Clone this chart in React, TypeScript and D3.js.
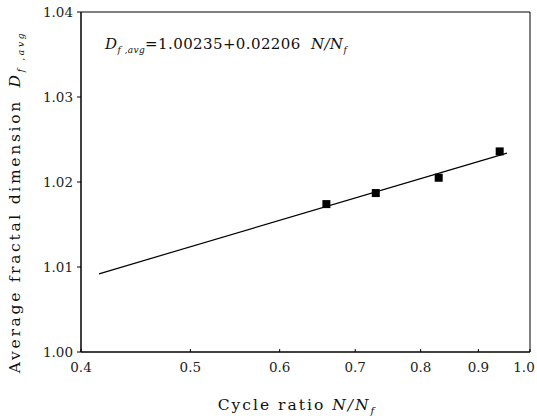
import React from 'react';
import * as d3 from 'd3';

// measured points (cycle ratio, average fractal dimension)
const cycleRatio = [0.66, 0.73, 0.83, 0.94];
const fractalDim = [1.0174, 1.0187, 1.0205, 1.0236];
// fitted line end points as drawn
const fitX = [0.415, 0.954];
const fitY = [1.0092, 1.0234];
const xTicks = [0.4, 0.5, 0.6, 0.7, 0.8, 0.9, 1.0];
const yTicks = [1.0, 1.01, 1.02, 1.03, 1.04];

const W = 537;
const H = 420;
const margin = { left: 81, right: 7, top: 12, bottom: 68 };
const font = "'DejaVu Serif', serif";

const App = () => {
  const x = d3.scaleLog().domain([0.4, 1.0]).range([margin.left, W - margin.right]);
  const y = d3.scaleLinear().domain([1.0, 1.04]).range([H - margin.bottom, margin.top]);

  const line = d3.line<number>()
    .x((d) => x(d))
    .y((_, i) => y(fitY[i]));

  const x0 = x(0.4), x1 = x(1.0), y0 = y(1.0), y1 = y(1.04);

  return (
    <svg width={W} height={H} style={{ position: 'absolute', left: 0, top: 0, background: '#fff', fontFamily: font }}>
      {/* frame */}
      <line x1={x0} x2={x1} y1={y0} y2={y0} stroke="#000" strokeWidth={1.5} />
      <line x1={x0} x2={x0} y1={y0} y2={y1} stroke="#000" strokeWidth={1.5} />
      <line x1={x0} x2={x1} y1={y1} y2={y1} stroke="#000" strokeWidth={1} />
      <line x1={x1} x2={x1} y1={y0} y2={y1} stroke="#000" strokeWidth={1} />

      {/* y ticks */}
      {yTicks.map((t) => (
        <g key={t}>
          <line x1={x0 - 4} x2={x0} y1={y(t)} y2={y(t)} stroke="#000" />
          <text x={x0 - 8} y={y(t)} dy="0.35em" textAnchor="end" fontSize={13.5}
            fill="#222">{d3.format('.2f')(t)}</text>
        </g>
      ))}

      {/* x ticks */}
      {xTicks.map((t, i) => (
        <g key={t}>
          <line x1={x(t)} x2={x(t)} y1={y0} y2={y0 - 3} stroke="#000" />
          <text x={i === xTicks.length - 1 ? x(t) - 6 : x(t)} y={y0 + 20} textAnchor="middle" fontSize={13.5}
            fill="#222">{d3.format('.1f')(t)}</text>
        </g>
      ))}

      {/* fitted line */}
      <path d={line(fitX) || ''} fill="none" stroke="#000" strokeWidth={1.2} />

      {/* points */}
      {cycleRatio.map((c, i) => (
        <rect key={c} x={x(c) - 4} y={y(fractalDim[i]) - 4} width={8} height={8} fill="#000" />
      ))}

      {/* equation */}
      <text x={105} y={49} fontSize={15} letterSpacing={0.4} fill="#111">
        <tspan fontStyle="italic">D</tspan>
        <tspan fontStyle="italic" fontSize={9} dy={4}>f ,avg</tspan>
        <tspan dy={-4}>=1.00235+0.02206 </tspan>
        <tspan fontStyle="italic" dx={5}>N/N</tspan>
        <tspan fontStyle="italic" fontSize={9} dy={4}>f</tspan>
      </text>

      {/* axis titles */}
      <text x={297} y={410} textAnchor="middle" fontSize={15.5} letterSpacing={2} fill="#111">
        <tspan>Cycle ratio </tspan>
        <tspan fontStyle="italic">N/N</tspan>
        <tspan fontStyle="italic" fontSize={10} dy={4}>f</tspan>
      </text>
      <text transform={`translate(20, 202) rotate(-90)`} textAnchor="middle" fontSize={15.5}
        letterSpacing={2.7} fill="#111">
        <tspan>Average fractal dimension </tspan>
        <tspan fontStyle="italic" dx={4}>D</tspan>
        <tspan fontStyle="italic" fontSize={9} dy={4}>f ,avg</tspan>
      </text>
    </svg>
  );
};

export default App;
